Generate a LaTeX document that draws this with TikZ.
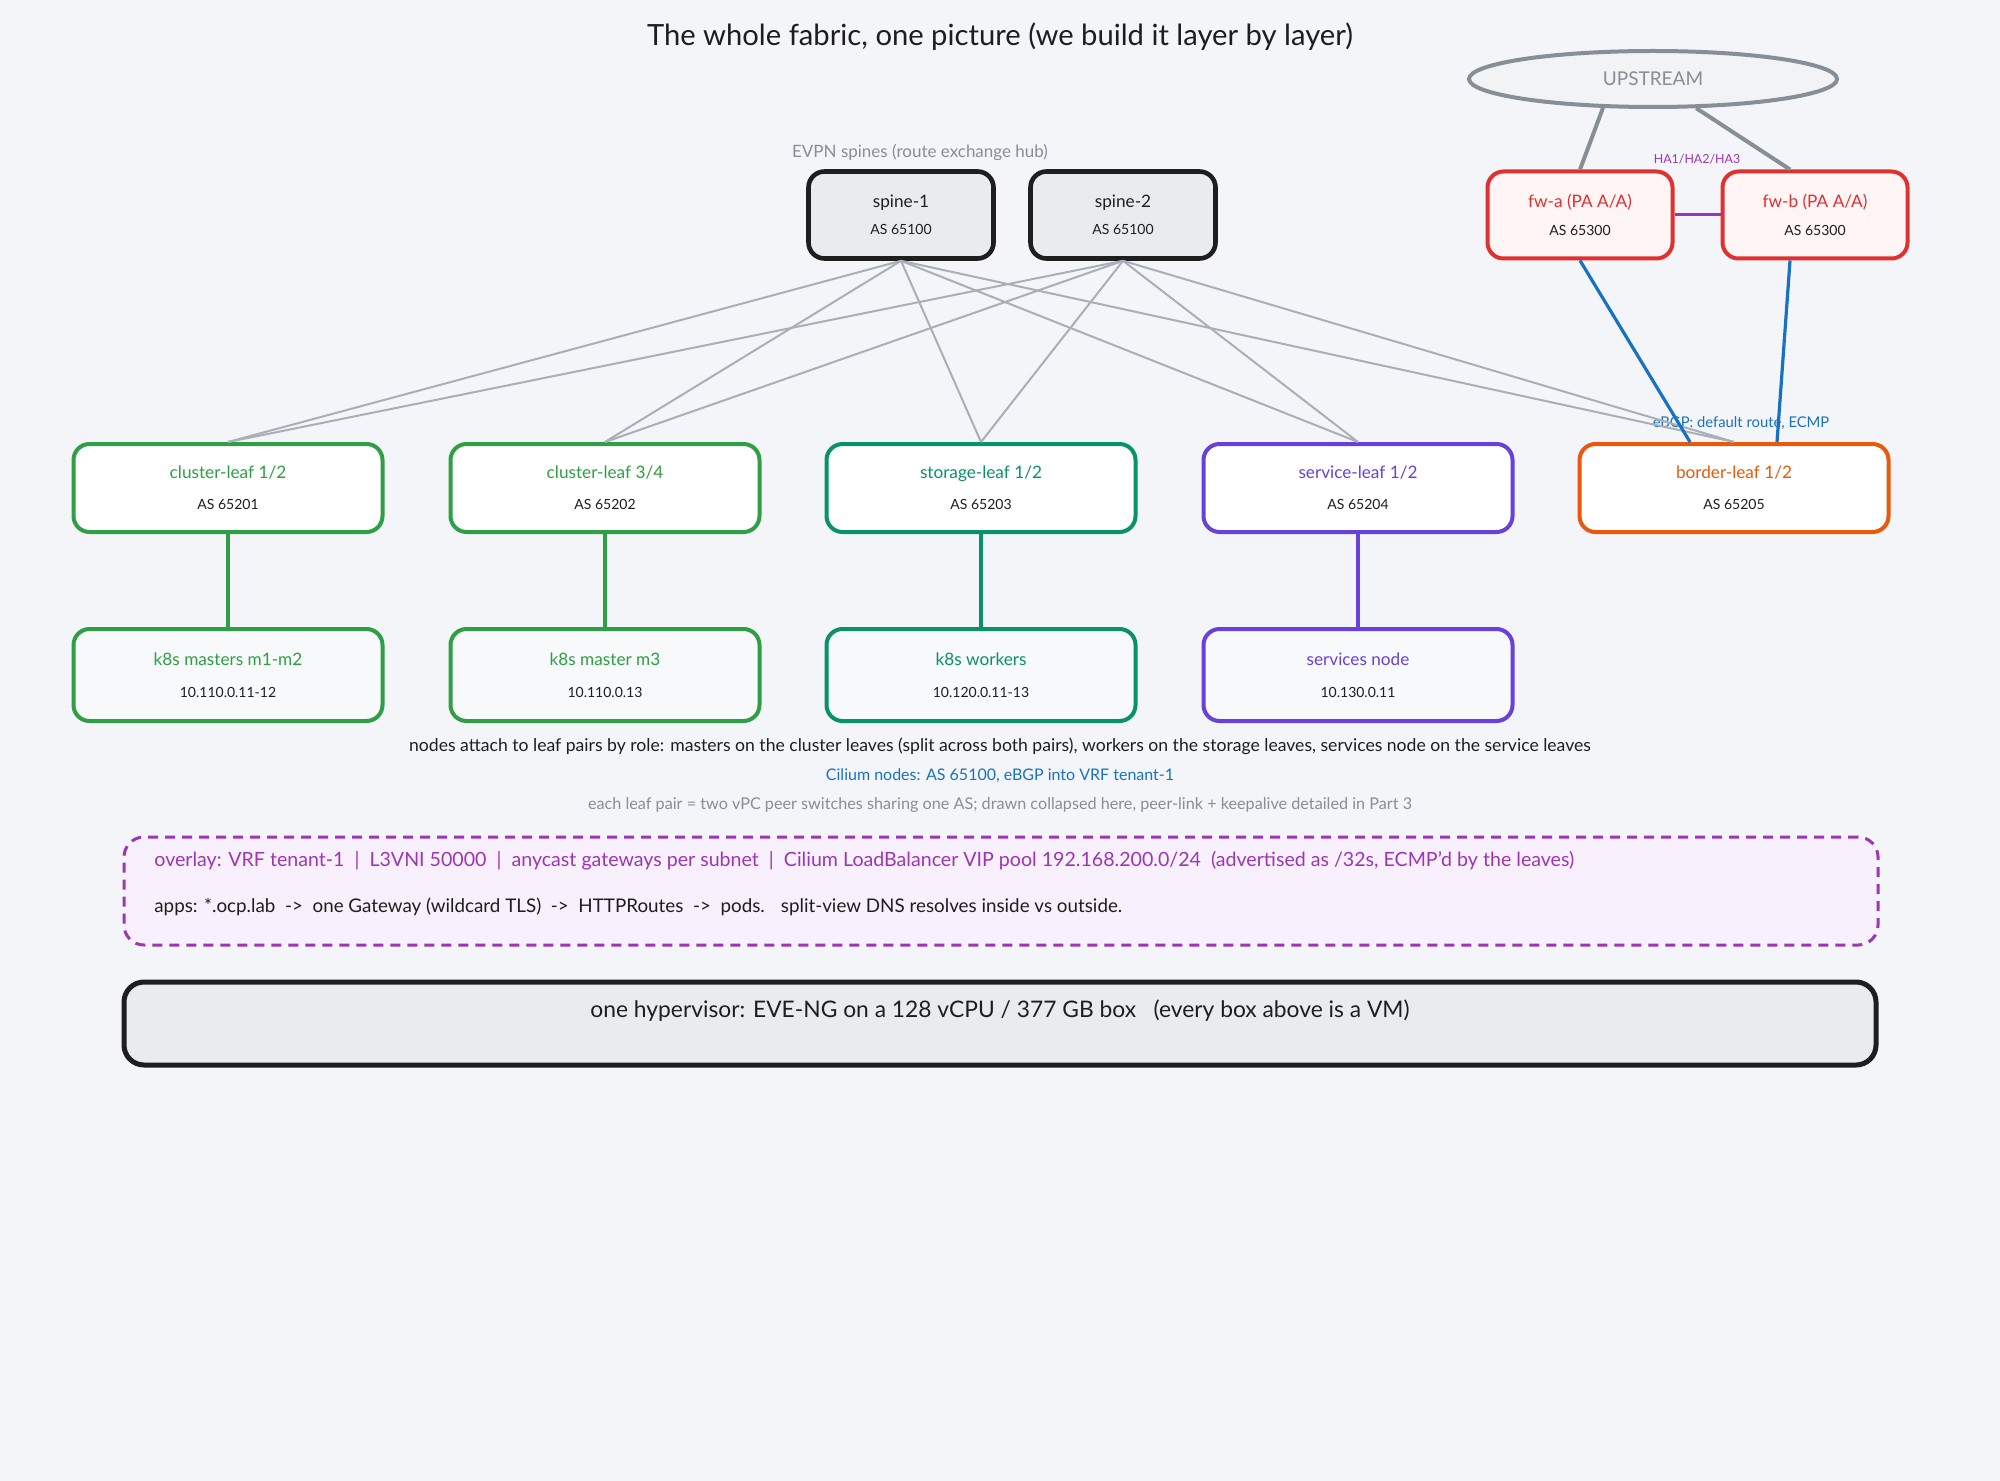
\documentclass[tikz,border=0pt]{standalone}
\usepackage{fontspec}
\setmainfont{Lato}
\usetikzlibrary{calc,shapes.geometric}
\definecolor{bg}{HTML}{F4F5F9}
\definecolor{ink}{HTML}{1E1E1E}
\definecolor{cgreen}{HTML}{2F9E44}
\definecolor{cteal}{HTML}{099268}
\definecolor{cviolet}{HTML}{6741D9}
\definecolor{corange}{HTML}{E8590C}
\definecolor{cred}{HTML}{E03131}
\definecolor{cblue}{HTML}{1971C2}
\definecolor{cgrape}{HTML}{9C36B5}
\definecolor{cgray}{HTML}{868E96}
\definecolor{lgray}{HTML}{A9AFB6}
\definecolor{spinefill}{HTML}{E9ECEF}
\definecolor{upfill}{HTML}{F1F3F5}
\definecolor{redfill}{HTML}{FFF5F5}
\definecolor{grapefill}{HTML}{F8F0FC}
\definecolor{nodefill}{HTML}{F8F9FA}
\newcommand\fsz[1]{\fontsize{#1}{#1}\selectfont}
\begin{document}
\begin{tikzpicture}[x=0.5pt,y=-0.5pt,
  box/.style={draw, line width=2pt, rounded corners=8pt, align=center, inner sep=0pt, font=\fsz{8}, text=ink},
  spinebox/.style={box, draw=ink, line width=2.3pt, fill=spinefill, minimum width=92.5pt, minimum height=43.5pt},
  fwbox/.style={box, draw=cred, fill=redfill, minimum width=92.5pt, minimum height=43.5pt},
  leafbox/.style={box, fill=white, minimum width=154.5pt, minimum height=44pt},
  hostbox/.style={box, fill=nodefill, minimum width=154.5pt, minimum height=46pt},
  fabric/.style={draw=lgray, line width=1pt},
  attach/.style={line width=1.6pt},
  uplink/.style={draw=cblue, line width=1.6pt},
  wan/.style={draw=cgray, line width=2pt},
  note/.style={inner sep=0pt, text=ink}
]
\useasboundingbox (0,0) rectangle (2000,1481);
\fill[bg] (0,0) rectangle (2000,1481);

% title
\node[note, font=\fsz{14.6}] (title) at (1000,37) {The whole fabric, one picture (we build it layer by layer)};

% upstream
\node[ellipse, draw=cgray, line width=2pt, fill=upfill, minimum width=184pt, minimum height=28pt, inner sep=0pt, text=cgray, font=\fsz{9.5}] (up) at (1653,79) {UPSTREAM};

% spines
\node[note, text=cgray, font=\fsz{8.5}] (evpn) at (920,152) {EVPN spines (route exchange hub)};
\node[spinebox] (s1) at (901,215) {{\fsz{8.6}spine-1}\\[5.5pt]{\fsz{7}AS 65100}};
\node[spinebox] (s2) at (1123,215) {{\fsz{8.6}spine-2}\\[5.5pt]{\fsz{7}AS 65100}};

% firewalls
\node[fwbox] (fwa) at (1580,215) {{\color{cred}\fsz{8.6}fw-a (PA A/A)}\\[6pt]{\fsz{7}AS 65300}};
\node[fwbox] (fwb) at (1815,215) {{\color{cred}\fsz{8.6}fw-b (PA A/A)}\\[6pt]{\fsz{7}AS 65300}};
\node[note, text=cgrape, font=\fsz{6.2}] (ha) at (1697,159) {HA1/HA2/HA3};

% leaves
\node[leafbox, draw=cgreen] (cl12) at (228,488) {{\color{cgreen}\fsz{8.6}cluster-leaf 1/2}\\[7.5pt]{\fsz{7}AS 65201}};
\node[leafbox, draw=cgreen] (cl34) at (605,488) {{\color{cgreen}\fsz{8.6}cluster-leaf 3/4}\\[7.5pt]{\fsz{7}AS 65202}};
\node[leafbox, draw=cteal] (st12) at (981,488) {{\color{cteal}\fsz{8.6}storage-leaf 1/2}\\[7.5pt]{\fsz{7}AS 65203}};
\node[leafbox, draw=cviolet] (sv12) at (1358,488) {{\color{cviolet}\fsz{8.6}service-leaf 1/2}\\[7.5pt]{\fsz{7}AS 65204}};
\node[leafbox, draw=corange] (bl12) at (1734,488) {{\color{corange}\fsz{8.6}border-leaf 1/2}\\[7.5pt]{\fsz{7}AS 65205}};
\node[note, text=cblue, font=\fsz{7.4}] (ebgp) at (1741,423) {eBGP: default route, ECMP};

% hosts
\node[hostbox, draw=cgreen] (m12) at (228,675) {{\color{cgreen}\fsz{8.6}k8s masters m1-m2}\\[8pt]{\fsz{7}10.110.0.11-12}};
\node[hostbox, draw=cgreen] (m3) at (605,675) {{\color{cgreen}\fsz{8.6}k8s master m3}\\[8pt]{\fsz{7}10.110.0.13}};
\node[hostbox, draw=cteal] (wk) at (981,675) {{\color{cteal}\fsz{8.6}k8s workers}\\[8pt]{\fsz{7}10.120.0.11-13}};
\node[hostbox, draw=cviolet] (svc) at (1358,675) {{\color{cviolet}\fsz{8.6}services node}\\[8pt]{\fsz{7}10.130.0.11}};

% fabric links
\foreach \s in {s1,s2}
  \foreach \l in {cl12,cl34,st12,sv12,bl12}
    \draw[fabric] (\s.south) -- (\l.north);

% attachments
\draw[attach, draw=cgreen] (cl12.south) -- (m12.north);
\draw[attach, draw=cgreen] (cl34.south) -- (m3.north);
\draw[attach, draw=cteal] (st12.south) -- (wk.north);
\draw[attach, draw=cviolet] (sv12.south) -- (svc.north);

% firewall links
\draw[uplink] (fwa.south) -- ($(bl12.north)+(-44,0)$);
\draw[uplink] ($(fwb.south)+(-25,0)$) -- ($(bl12.north)+(43,0)$);
\draw[draw=cgrape, line width=1.5pt] (fwa.east) -- (fwb.west);
\draw[wan] (up.-150) -- (fwa.north);
\draw[wan] (up.-34) -- ($(fwb.north)+(-25,0)$);

% notes
\node[note, font=\fsz{8.8}] (n1) at (1000,746) {nodes attach to leaf pairs by role: masters on the cluster leaves (split across both pairs), workers on the storage leaves, services node on the service leaves};
\node[note, text=cblue, font=\fsz{8.0}] (n2) at (1000,776) {Cilium nodes: AS 65100, eBGP into VRF tenant-1};
\node[note, text=cgray, font=\fsz{8.1}] (n3) at (1000,805) {each leaf pair = two vPC peer switches sharing one AS; drawn collapsed here, peer-link + keepalive detailed in Part 3};

% overlay
\node[draw=cgrape, fill=grapefill, line width=1.5pt, dash pattern=on 5pt off 3.5pt, rounded corners=10pt, minimum width=877pt, minimum height=54pt, inner sep=0pt] (ovl) at (1001,891) {};
\node[note, anchor=west, text=cgrape, font=\fsz{9.8}] (ov1) at (154,861) {overlay: VRF tenant-1 \ | \ L3VNI 50000 \ | \ anycast gateways per subnet \ | \ Cilium LoadBalancer VIP pool 192.168.200.0/24 \ (advertised as /32s, ECMP'd by the leaves)};
\node[note, anchor=west, font=\fsz{9.4}] (ov2) at (154,907) {apps: *.ocp.lab \ -> \ one Gateway (wildcard TLS) \ -> \ HTTPRoutes \ -> \ pods. \ \ split-view DNS resolves inside vs outside.};

% hypervisor
\node[draw=ink, fill=spinefill, line width=2.5pt, rounded corners=10pt, minimum width=876pt, minimum height=41.5pt, inner sep=0pt] (hv) at (1000,1023.5) {};
\node[note, font=\fsz{11.4}] (hvt) at (1000,1011) {one hypervisor: EVE-NG on a 128 vCPU / 377 GB box \ \ (every box above is a VM)};
\end{tikzpicture}
\end{document}
